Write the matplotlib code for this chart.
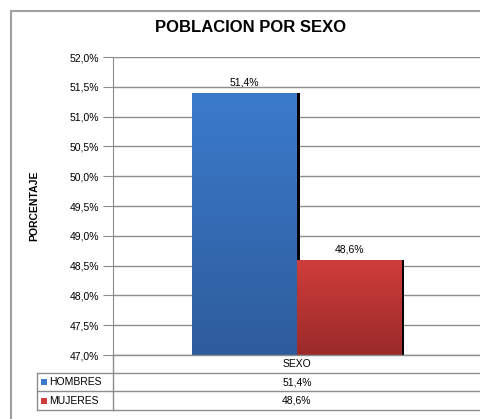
import matplotlib.pyplot as plt
import numpy as np
from matplotlib.colors import LinearSegmentedColormap
from matplotlib.lines import Line2D
from matplotlib.patches import Rectangle

plt.rcParams["font.family"] = ["Liberation Sans", "DejaVu Sans"]

categoria = "SEXO"
series = ["HOMBRES", "MUJERES"]
valores = [51.4, 48.6]
etiquetas = ["51,4%", "48,6%"]
colores_top = ["#3b7bcc", "#cf3e3b"]
colores_bot = ["#2d5c9c", "#9b2a2a"]
yticks = [47.0, 47.5, 48.0, 48.5, 49.0, 49.5, 50.0, 50.5, 51.0, 51.5, 52.0]

W, H = 481, 419
fig = plt.figure(figsize=(W / 100, H / 100), dpi=100)


def fx(px):
    return px / W


def fy(py):
    return 1 - py / H


# outer frame
fig.add_artist(Rectangle((fx(11), fy(425)), fx(480), 414 / H, transform=fig.transFigure,
                         fill=False, edgecolor="#a0a0a0", linewidth=1.5))

fig.text(fx(251), fy(27), "POBLACION POR SEXO", ha="center", va="center",
         fontsize=12, fontweight="bold")

ax = fig.add_axes([fx(113), fy(355), fx(481 - 113), (355 - 57) / H])
ax.set_xlim(-0.5, 0.5)
ax.set_ylim(47.0, 52.0)
ax.set_yticks(yticks)
ax.set_yticklabels([f"{t:.1f}%".replace(".", ",") for t in yticks], fontsize=7.5)
ax.tick_params(axis="y", length=7, color="#8c8c8c", pad=3)
ax.set_xticks([])
for s in ["top", "right", "bottom"]:
    ax.spines[s].set_visible(False)
ax.spines["left"].set_color("#8c8c8c")
ax.grid(axis="y", color="#8c8c8c", linewidth=1)
ax.set_axisbelow(True)
ax.set_ylabel("PORCENTAJE", fontsize=7.5, fontweight="bold", labelpad=22)

width = 0.285
offsets = [-width / 2, width / 2]
for i, (v, lab) in enumerate(zip(valores, etiquetas)):
    x0 = offsets[i] - width / 2
    # shadow on right edge
    ax.bar(offsets[i] + 0.007, v - 47.0, width=width, bottom=47.0, color="black",
           zorder=2, clip_on=False)
    bar = ax.bar(offsets[i], v - 47.0, width=width, bottom=47.0, color=colores_top[i],
                 zorder=3)[0]
    cmap = LinearSegmentedColormap.from_list("g", [colores_bot[i], colores_top[i]])
    grad = np.linspace(0, 1, 100).reshape(-1, 1)
    im = ax.imshow(grad, cmap=cmap, aspect="auto", origin="lower",
                   extent=[x0, x0 + width, 47.0, v], zorder=4)
    im.set_clip_path(bar)
    ax.text(offsets[i], v + 0.09, lab, ha="center", va="bottom", fontsize=7.5, zorder=5)
ax.set_xlim(-0.5, 0.5)
ax.set_ylim(47.0, 52.0)

# data table below the plot
line_kw = dict(transform=fig.transFigure, color="#8c8c8c", linewidth=1)
fig.add_artist(Line2D([fx(113), fx(481)], [fy(355), fy(355)], **line_kw))
for py in [373, 391, 410]:
    fig.add_artist(Line2D([fx(37), fx(481)], [fy(py), fy(py)], **line_kw))
fig.add_artist(Line2D([fx(113), fx(113)], [fy(355), fy(410)], **line_kw))
fig.add_artist(Line2D([fx(37), fx(37)], [fy(373), fy(410)], **line_kw))

fig.text(fx(297), fy(364), categoria, ha="center", va="center", fontsize=7.5)
for i, (nombre, lab) in enumerate(zip(series, etiquetas)):
    yc = 382 + i * 18.5
    fig.add_artist(Rectangle((fx(41), fy(yc + 3)), fx(6), 6 / H, transform=fig.transFigure,
                             facecolor=colores_top[i], edgecolor="none"))
    fig.text(fx(49), fy(yc), nombre, ha="left", va="center", fontsize=7.5)
    fig.text(fx(297), fy(yc), lab, ha="center", va="center", fontsize=7.5)

fig.savefig("out.png", dpi=100)
